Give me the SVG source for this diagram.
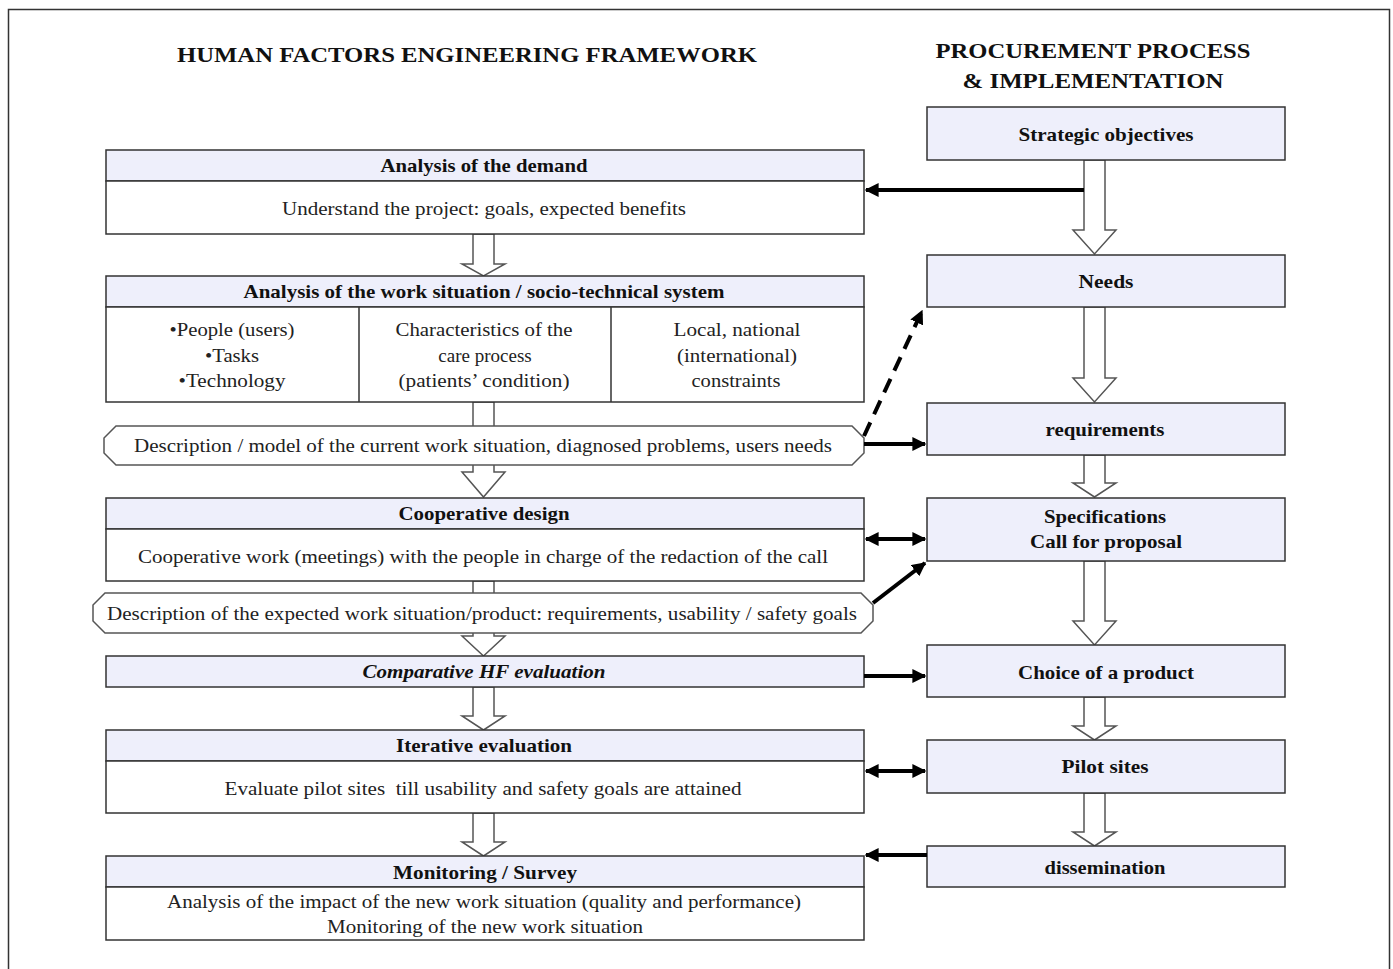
<svg xmlns="http://www.w3.org/2000/svg" width="1393" height="969" viewBox="0 0 1393 969">
<style>
.hdr{fill:#EEEFFB;stroke:#333;stroke-width:1.5}
.body{fill:#fff;stroke:#333;stroke-width:1.5}
.oct{fill:#fff;stroke:#555;stroke-width:1.5}
.blk{fill:#fff;stroke:#555;stroke-width:1.5}
.b{font-family:"Liberation Serif","DejaVu Serif",serif;font-weight:bold;font-size:19px;fill:#111;text-anchor:middle}
.t{font-family:"Liberation Serif","DejaVu Serif",serif;font-size:19px;fill:#222;text-anchor:middle}
.title{font-family:"Liberation Serif","DejaVu Serif",serif;font-weight:bold;font-size:22px;fill:#111;text-anchor:middle}
.con{stroke:#000;stroke-width:4;fill:none}
</style>
<defs>
<marker id="ah" viewBox="0 0 10 10" refX="9" refY="5" markerWidth="14" markerHeight="14" markerUnits="userSpaceOnUse" orient="auto-start-reverse">
<path d="M0,0 L10,5 L0,10 Z" fill="#000"/>
</marker>
</defs>
<rect x="8.5" y="9.5" width="1381" height="990" fill="#fff" stroke="#333" stroke-width="1.5"/>
<g id="titles">
<text class="title" x="467" y="62" textLength="580" lengthAdjust="spacingAndGlyphs">HUMAN FACTORS ENGINEERING FRAMEWORK</text>
<text class="title" x="1093" y="58" textLength="315" lengthAdjust="spacingAndGlyphs">PROCUREMENT PROCESS</text>
<text class="title" x="1093" y="88" textLength="261" lengthAdjust="spacingAndGlyphs">&amp; IMPLEMENTATION</text>
</g>
<g id="block-arrows">
<path class="blk" d="M473,234 H494 V264 H505 L483.5,276 L462,264 H473 Z"/>
<path class="blk" d="M473,402 H494 V472 H505 L483.5,497 L462,472 H473 Z"/>
<path class="blk" d="M473,581 H494 V636 H505 L483.5,656 L462,636 H473 Z"/>
<path class="blk" d="M473,687 H494 V716 H505 L483.5,730 L462,716 H473 Z"/>
<path class="blk" d="M473,813 H494 V842 H505 L483.5,856 L462,842 H473 Z"/>
<path class="blk" d="M1084,160 H1105 V230 H1116 L1094.5,254 L1073,230 H1084 Z"/>
<path class="blk" d="M1084,307 H1105 V378 H1116 L1094.5,402 L1073,378 H1084 Z"/>
<path class="blk" d="M1084,455 H1105 V483 H1116 L1094.5,497 L1073,483 H1084 Z"/>
<path class="blk" d="M1084,561 H1105 V621 H1116 L1094.5,645 L1073,621 H1084 Z"/>
<path class="blk" d="M1084,697 H1105 V726 H1116 L1094.5,740 L1073,726 H1084 Z"/>
<path class="blk" d="M1084,793 H1105 V832 H1116 L1094.5,846 L1073,832 H1084 Z"/>
</g>
<g id="demand">
<rect class="hdr" x="106" y="150" width="758" height="31"/>
<rect class="body" x="106" y="181" width="758" height="53"/>
<text class="b" x="484" y="172" textLength="207" lengthAdjust="spacingAndGlyphs">Analysis of the demand</text>
<text class="t" x="484" y="215" textLength="404" lengthAdjust="spacingAndGlyphs">Understand the project: goals, expected benefits</text>
</g>
<g id="work-situation">
<rect class="hdr" x="106" y="276" width="758" height="31"/>
<rect class="body" x="106" y="307" width="758" height="95"/>
<line x1="359" y1="307" x2="359" y2="402" stroke="#333" stroke-width="1.5"/>
<line x1="611" y1="307" x2="611" y2="402" stroke="#333" stroke-width="1.5"/>
<text class="b" x="484" y="298" textLength="481" lengthAdjust="spacingAndGlyphs">Analysis of the work situation / socio-technical system</text>
<text class="t" x="232" y="336" textLength="125" lengthAdjust="spacingAndGlyphs">•People (users)</text>
<text class="t" x="232" y="362" textLength="54" lengthAdjust="spacingAndGlyphs">•Tasks</text>
<text class="t" x="232" y="387" textLength="107" lengthAdjust="spacingAndGlyphs">•Technology</text>
<text class="t" x="484" y="336" textLength="177" lengthAdjust="spacingAndGlyphs">Characteristics of the</text>
<text class="t" x="485" y="362">care process</text>
<text class="t" x="484" y="387" textLength="171" lengthAdjust="spacingAndGlyphs">(patients’ condition)</text>
<text class="t" x="737" y="336" textLength="127" lengthAdjust="spacingAndGlyphs">Local, national</text>
<text class="t" x="737" y="362" textLength="120" lengthAdjust="spacingAndGlyphs">(international)</text>
<text class="t" x="736" y="387" textLength="89" lengthAdjust="spacingAndGlyphs">constraints</text>
</g>
<g id="current-description">
<polygon class="oct" points="116,426 852,426 864,438 864,453 852,465 116,465 104,453 104,438"/>
<text class="t" x="483" y="452" textLength="698" lengthAdjust="spacingAndGlyphs">Description / model of the current work situation, diagnosed problems, users needs</text>
</g>
<g id="cooperative">
<rect class="hdr" x="106" y="498" width="758" height="31"/>
<rect class="body" x="106" y="529" width="758" height="52"/>
<text class="b" x="484" y="520" textLength="171" lengthAdjust="spacingAndGlyphs">Cooperative design</text>
<text class="t" x="483" y="563" textLength="690" lengthAdjust="spacingAndGlyphs">Cooperative work (meetings) with the people in charge of the redaction of the call</text>
</g>
<g id="expected-description">
<polygon class="oct" points="105,593 861,593 873,605 873,621 861,633 105,633 93,621 93,605"/>
<text class="t" x="482" y="620" textLength="750" lengthAdjust="spacingAndGlyphs">Description of the expected work situation/product: requirements, usability / safety goals</text>
</g>
<g id="comparative">
<rect class="hdr" x="106" y="656" width="758" height="31"/>
<text class="b" x="484" y="678" font-style="italic" textLength="243" lengthAdjust="spacingAndGlyphs">Comparative HF evaluation</text>
</g>
<g id="iterative">
<rect class="hdr" x="106" y="730" width="758" height="31"/>
<rect class="body" x="106" y="761" width="758" height="52"/>
<text class="b" x="484" y="752" textLength="176" lengthAdjust="spacingAndGlyphs">Iterative evaluation</text>
<text class="t" x="483" y="795" textLength="517" lengthAdjust="spacingAndGlyphs" xml:space="preserve">Evaluate pilot sites  till usability and safety goals are attained</text>
</g>
<g id="monitoring">
<rect class="hdr" x="106" y="856" width="758" height="31"/>
<rect class="body" x="106" y="887" width="758" height="53"/>
<text class="b" x="485" y="879" textLength="184" lengthAdjust="spacingAndGlyphs">Monitoring / Survey</text>
<text class="t" x="484" y="908" textLength="634" lengthAdjust="spacingAndGlyphs">Analysis of the impact of the new work situation (quality and performance)</text>
<text class="t" x="485" y="933" textLength="316" lengthAdjust="spacingAndGlyphs">Monitoring of the new work situation</text>
</g>
<g id="strategic">
<rect class="hdr" x="927" y="107" width="358" height="53"/>
<text class="b" x="1106" y="141" textLength="175" lengthAdjust="spacingAndGlyphs">Strategic objectives</text>
</g>
<g id="needs">
<rect class="hdr" x="927" y="255" width="358" height="52"/>
<text class="b" x="1106" y="288" textLength="55" lengthAdjust="spacingAndGlyphs">Needs</text>
</g>
<g id="requirements">
<rect class="hdr" x="927" y="403" width="358" height="52"/>
<text class="b" x="1105" y="436" textLength="119" lengthAdjust="spacingAndGlyphs">requirements</text>
</g>
<g id="specifications">
<rect class="hdr" x="927" y="498" width="358" height="63"/>
<text class="b" x="1105" y="523" textLength="122" lengthAdjust="spacingAndGlyphs">Specifications</text>
<text class="b" x="1106" y="548" textLength="152" lengthAdjust="spacingAndGlyphs">Call for proposal</text>
</g>
<g id="choice">
<rect class="hdr" x="927" y="645" width="358" height="52"/>
<text class="b" x="1106" y="679" textLength="176" lengthAdjust="spacingAndGlyphs">Choice of a product</text>
</g>
<g id="pilot">
<rect class="hdr" x="927" y="740" width="358" height="53"/>
<text class="b" x="1105" y="773" textLength="87" lengthAdjust="spacingAndGlyphs">Pilot sites</text>
</g>
<g id="dissemination">
<rect class="hdr" x="927" y="846" width="358" height="41"/>
<text class="b" x="1105" y="874" textLength="121" lengthAdjust="spacingAndGlyphs">dissemination</text>
</g>
<g id="connectors">
<line class="con" x1="1084" y1="190" x2="866" y2="190" marker-end="url(#ah)"/>
<line class="con" x1="864" y1="436" x2="922" y2="311" stroke-dasharray="15,9" marker-end="url(#ah)"/>
<line class="con" x1="864" y1="444" x2="925" y2="444" marker-end="url(#ah)"/>
<line class="con" x1="866" y1="539" x2="925" y2="539" marker-start="url(#ah)" marker-end="url(#ah)"/>
<line class="con" x1="873" y1="603" x2="925" y2="563" marker-end="url(#ah)"/>
<line class="con" x1="864" y1="676" x2="925" y2="676" marker-end="url(#ah)"/>
<line class="con" x1="866" y1="771" x2="925" y2="771" marker-start="url(#ah)" marker-end="url(#ah)"/>
<line class="con" x1="927" y1="855" x2="866" y2="855" marker-end="url(#ah)"/>
</g>
</svg>
